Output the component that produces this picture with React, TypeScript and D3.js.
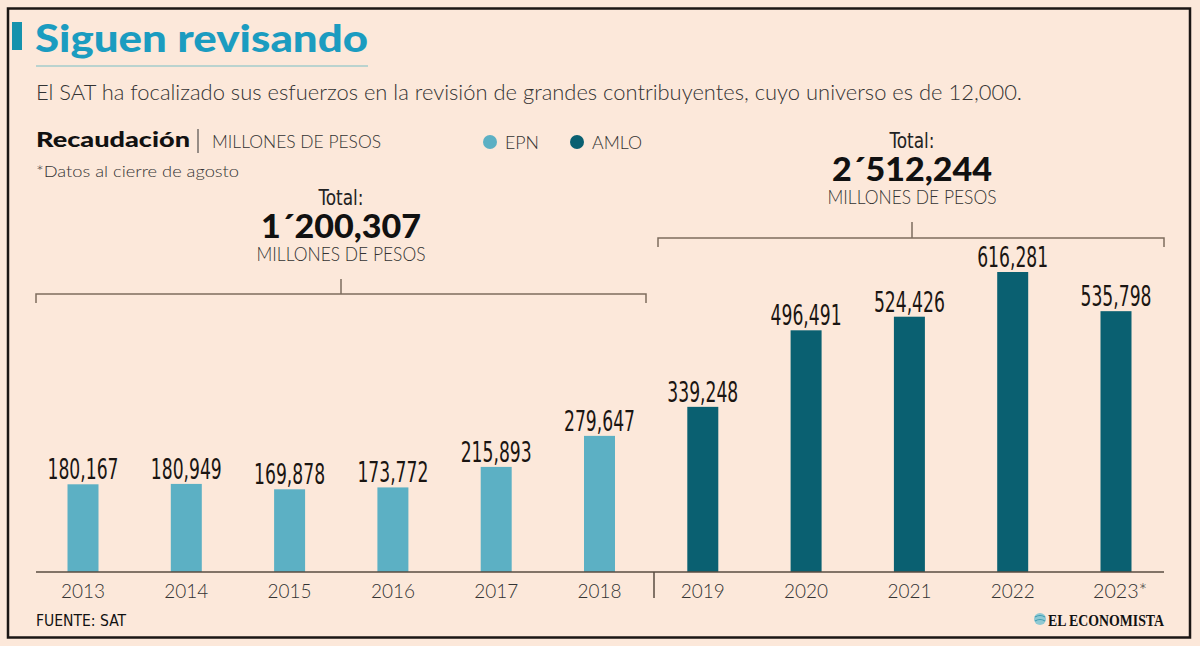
import React from "react";
import * as d3 from "d3";

const years = ["2013", "2014", "2015", "2016", "2017", "2018", "2019", "2020", "2021", "2022", "2023*"];
const values = [180167, 180949, 169878, 173772, 215893, 279647, 339248, 496491, 524426, 616281, 535798];
const groups = ["EPN", "EPN", "EPN", "EPN", "EPN", "EPN", "AMLO", "AMLO", "AMLO", "AMLO", "AMLO"];
const legendItems = ["EPN", "AMLO"];
const totals = [
  { label: "1´200,307", first: "2013", last: "2018" },
  { label: "2´512,244", first: "2019", last: "2023*" },
];

const W = 1200;
const H = 646;
const BG = "#fce8da";
const LIGHT = "#5cb0c4";
const DARK = "#0a6071";
const TEXT = "#2a2522";
const LINE = "#7d6c5e";

const colorOf = (g: string) => (g === "EPN" ? LIGHT : DARK);

const LIGHTFONT = "'Lato', 'Open Sans', sans-serif";
const NARROW = "'Liberation Sans Narrow', 'DejaVu Sans Condensed', 'Roboto Condensed', sans-serif";

export default function App() {
  const x = d3.scaleBand<string>().domain(years).range([31.35, 1167.65]).paddingInner(0.7).paddingOuter(0.35);
  const y = d3.scaleLinear().domain([0, d3.max(values) as number]).range([572, 272]);
  const bw = x.bandwidth();
  const cx = (yr: string) => (x(yr) as number) + bw / 2;

  const bracketLeft = { x0: 36, x1: 646, y: 294, cx: 341, top: 279 };
  const bracketRight = { x0: 658, x1: 1164, y: 238, cx: 912, top: 222 };

  return (
    <svg width={W} height={H} style={{ position: "absolute", left: 0, top: 0, background: BG }}>
      <rect x={0} y={0} width={W} height={H} fill={BG} />
      <rect x={8} y={8.5} width={1182} height={629} fill="none" stroke="#1b1614" strokeWidth={2.5} />

      {/* Title */}
      <rect x={12} y={22} width={10} height={28} fill="#1592ad" />
      <text x={35} y={52} fontFamily="'Lato', 'Open Sans', sans-serif" fontWeight={900} fontSize={38} fill="#1b9cc0" textLength={333} lengthAdjust="spacingAndGlyphs">
        Siguen revisando
      </text>
      <line x1={36} x2={368} y1={66} y2={66} stroke="#a4cccb" strokeWidth={1.5} />
      <text x={36} y={100} fontFamily={LIGHTFONT} fontWeight={300} fontSize={21} fill="#333" textLength={986} lengthAdjust="spacingAndGlyphs">
        El SAT ha focalizado sus esfuerzos en la revisión de grandes contribuyentes, cuyo universo es de 12,000.
      </text>

      {/* Subheader */}
      <text x={36} y={147} fontFamily="'Lato', sans-serif" fontWeight={900} fontSize={21} fill="#111" textLength={154} lengthAdjust="spacingAndGlyphs">
        Recaudación
      </text>
      <line x1={198} x2={198} y1={129} y2={153} stroke="#333" strokeWidth={1} />
      <text x={212} y={148} fontFamily={LIGHTFONT} fontWeight={300} fontSize={17} fill="#333" textLength={169} lengthAdjust="spacingAndGlyphs">
        MILLONES DE PESOS
      </text>
      <text x={36} y={177} fontFamily={LIGHTFONT} fontWeight={300} fontSize={16} fill="#333" textLength={203} lengthAdjust="spacingAndGlyphs">
        *Datos al cierre de agosto
      </text>

      {/* Legend */}
      {legendItems.map((g, i) => {
        const lx = i === 0 ? 490 : 577;
        return (
          <g key={g}>
            <circle cx={lx} cy={142} r={7} fill={colorOf(g)} />
            <text x={lx + 15} y={149} fontFamily={LIGHTFONT} fontWeight={300} fontSize={18} fill="#333" textLength={g === "EPN" ? 34 : 50} lengthAdjust="spacingAndGlyphs">
              {g}
            </text>
          </g>
        );
      })}

      {/* Totals */}
      {[bracketLeft, bracketRight].map((b, i) => {
        const t = totals[i];
        const base = b.top - 18;
        return (
          <g key={t.label}>
            <path d={`M${b.x0},${b.y + 9}V${b.y}H${b.x1}V${b.y + 9}`} fill="none" stroke={LINE} strokeWidth={1.5} />
            <line x1={b.cx} x2={b.cx} y1={b.top} y2={b.y} stroke={LINE} strokeWidth={1.5} />
            <text x={b.cx} y={base} textAnchor="middle" fontFamily={LIGHTFONT} fontWeight={300} fontSize={19} fill="#333" textLength={169} lengthAdjust="spacingAndGlyphs">
              MILLONES DE PESOS
            </text>
            <text x={b.cx} y={base - 23} textAnchor="middle" fontFamily="'Lato', sans-serif" fontWeight={900} fontSize={32} fill="#111" textLength={160} lengthAdjust="spacingAndGlyphs">
              {t.label}
            </text>
            <text x={b.cx} y={base - 56} textAnchor="middle" fontFamily={NARROW} fontSize={22} fill="#222" textLength={45} lengthAdjust="spacingAndGlyphs">
              Total:
            </text>
          </g>
        );
      })}

      {/* Bars */}
      {years.map((yr, i) => (
        <g key={yr}>
          <rect x={x(yr)} y={y(values[i])} width={bw} height={572 - y(values[i])} fill={colorOf(groups[i])} />
          <text x={cx(yr)} y={y(values[i]) - 5} textAnchor="middle" fontFamily={NARROW} fontSize={28} fill="#1a1512" textLength={71} lengthAdjust="spacingAndGlyphs">
            {d3.format(",")(values[i])}
          </text>
          <text x={cx(yr) + (yr.endsWith("*") ? 4 : 0)} y={598} textAnchor="middle" fontFamily={LIGHTFONT} fontWeight={300} fontSize={20} fill="#333" textLength={yr.endsWith("*") ? 54 : 44} lengthAdjust="spacingAndGlyphs">
            {yr}
          </text>
        </g>
      ))}
      <line x1={36} x2={1164} y1={572} y2={572} stroke="#5a4c40" strokeWidth={1.5} />
      <line x1={654} x2={654} y1={572} y2={598} stroke="#5a4c40" strokeWidth={1.5} />

      {/* Footer */}
      <text x={36} y={626} fontFamily={NARROW} fontSize={16} fill="#111" textLength={90} lengthAdjust="spacingAndGlyphs">
        FUENTE: SAT
      </text>
      <circle cx={1040} cy={619} r={6} fill="#8fc9d3" />
      <path d="M1035,617 Q1040,614 1045,617" stroke="#3f9cb2" strokeWidth={1.2} fill="none" />
      <path d="M1035,621 Q1040,618 1045,621" stroke="#3f9cb2" strokeWidth={1.2} fill="none" />
      <text x={1048} y={626} fontFamily="'Liberation Serif', 'DejaVu Serif', serif" fontWeight={700} fontSize={16} fill="#111" textLength={116} lengthAdjust="spacingAndGlyphs">
        EL ECONOMISTA
      </text>
    </svg>
  );
}
